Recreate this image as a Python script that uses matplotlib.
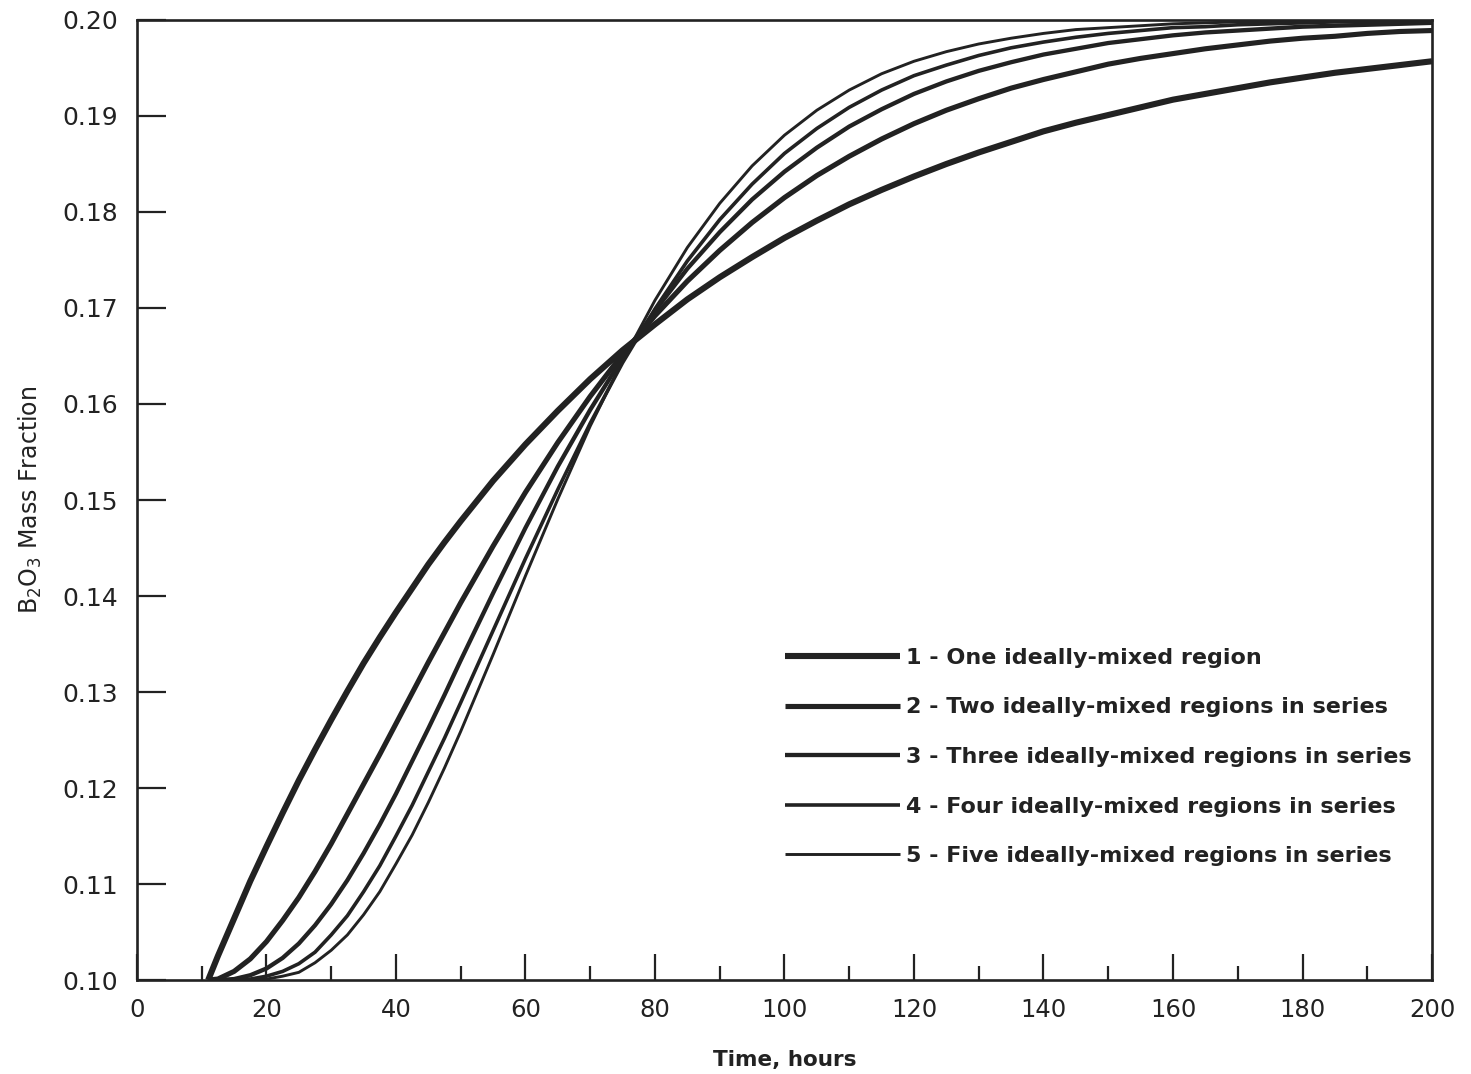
import numpy as np
import matplotlib
matplotlib.use("Agg")
import matplotlib.pyplot as plt

# Time, hours
time_h = [11, 12.5, 15, 17.5, 20, 22.5, 25, 27.5, 30, 32.5, 35, 37.5, 40, 42.5, 45, 47.5, 50,
          55, 60, 65, 70, 75, 80, 85, 90, 95, 100, 105, 110, 115, 120, 125, 130, 135, 140,
          145, 150, 155, 160, 165, 170, 175, 180, 185, 190, 195, 200]

# B2O3 mass fraction
one_region = [0.1000, 0.1025, 0.1064, 0.1103, 0.1139, 0.1174, 0.1208, 0.1240, 0.1271, 0.1301,
              0.1330, 0.1357, 0.1383, 0.1408, 0.1433, 0.1456, 0.1478, 0.1520, 0.1558, 0.1593,
              0.1626, 0.1656, 0.1683, 0.1709, 0.1732, 0.1753, 0.1773, 0.1791, 0.1808, 0.1823,
              0.1837, 0.1850, 0.1862, 0.1873, 0.1884, 0.1893, 0.1901, 0.1909, 0.1917, 0.1923,
              0.1929, 0.1935, 0.1940, 0.1945, 0.1949, 0.1953, 0.1957]
two_regions = [0.1000, 0.1001, 0.1009, 0.1022, 0.1040, 0.1062, 0.1086, 0.1113, 0.1142, 0.1173,
               0.1204, 0.1235, 0.1267, 0.1299, 0.1331, 0.1362, 0.1393, 0.1452, 0.1508, 0.1560,
               0.1608, 0.1652, 0.1692, 0.1728, 0.1760, 0.1789, 0.1815, 0.1838, 0.1858, 0.1876,
               0.1892, 0.1906, 0.1918, 0.1929, 0.1938, 0.1946, 0.1954, 0.1960, 0.1965, 0.1970,
               0.1974, 0.1978, 0.1981, 0.1983, 0.1986, 0.1988, 0.1989]
three_regions = [0.1000, 0.1000, 0.1001, 0.1005, 0.1012, 0.1023, 0.1038, 0.1057, 0.1079, 0.1104,
                 0.1132, 0.1162, 0.1194, 0.1228, 0.1262, 0.1297, 0.1333, 0.1403, 0.1471, 0.1535,
                 0.1594, 0.1648, 0.1697, 0.1741, 0.1779, 0.1813, 0.1842, 0.1867, 0.1889, 0.1907,
                 0.1923, 0.1936, 0.1947, 0.1956, 0.1964, 0.1970, 0.1976, 0.1980, 0.1984, 0.1987,
                 0.1989, 0.1991, 0.1993, 0.1994, 0.1995, 0.1996, 0.1997]
four_regions = [0.1000, 0.1000, 0.1000, 0.1001, 0.1004, 0.1009, 0.1017, 0.1029, 0.1047, 0.1067,
                0.1092, 0.1119, 0.1150, 0.1182, 0.1217, 0.1252, 0.1289, 0.1364, 0.1439, 0.1511,
                0.1580, 0.1643, 0.1699, 0.1749, 0.1792, 0.1829, 0.1861, 0.1887, 0.1909, 0.1927,
                0.1942, 0.1953, 0.1963, 0.1971, 0.1977, 0.1982, 0.1986, 0.1989, 0.1992, 0.1993,
                0.1995, 0.1996, 0.1997, 0.1998, 0.1998, 0.1999, 0.1999]
five_regions = [0.1000, 0.1000, 0.1000, 0.1000, 0.1001, 0.1004, 0.1008, 0.1018, 0.1031, 0.1047,
                0.1068, 0.1092, 0.1121, 0.1151, 0.1185, 0.1221, 0.1259, 0.1339, 0.1421, 0.1501,
                0.1577, 0.1645, 0.1708, 0.1763, 0.1809, 0.1848, 0.1880, 0.1906, 0.1927, 0.1944,
                0.1957, 0.1967, 0.1975, 0.1981, 0.1986, 0.1990, 0.1992, 0.1994, 0.1996, 0.1997,
                0.1998, 0.1998, 0.1999, 0.1999, 0.1999, 0.2000, 0.2000]

labels = ["1 - One ideally-mixed region",
          "2 - Two ideally-mixed regions in series",
          "3 - Three ideally-mixed regions in series",
          "4 - Four ideally-mixed regions in series",
          "5 - Five ideally-mixed regions in series"]

x_ticks = [0, 20, 40, 60, 80, 100, 120, 140, 160, 180, 200]
y_ticks = [0.10, 0.11, 0.12, 0.13, 0.14, 0.15, 0.16, 0.17, 0.18, 0.19, 0.20]

plt.rcParams['font.family'] = ['DejaVu Sans']
ink = '#222222'
fig = plt.figure(figsize=(14.71, 10.74), dpi=100)
ax = fig.add_axes([0.0931, 0.0875, 0.8804, 0.8939])
all_series = [one_region, two_regions, three_regions, four_regions, five_regions]
lws = [4.4, 3.7, 3.1, 2.6, 2.1]
for ys, lw, lab in zip(all_series, lws, labels):
    ax.plot(time_h, ys, color=ink, lw=lw, label=lab, solid_capstyle='butt')
ax.set_xlim(0, 200)
ax.set_ylim(0.1, 0.2)
ax.set_xticks(x_ticks)
ax.set_xticks(np.arange(10, 200, 20), minor=True)
ax.set_yticks(y_ticks)
ax.set_yticklabels([f"{v:.2f}" for v in y_ticks])
ax.tick_params(axis='x', which='major', direction='in', length=19, width=1.6, pad=13,
               labelsize=17.5, colors=ink)
ax.tick_params(axis='x', which='minor', direction='in', length=10, width=1.6, colors=ink)
ax.tick_params(axis='y', which='major', direction='in', length=21, width=1.6, pad=13.5,
               labelsize=18, colors=ink)
for sp in ax.spines.values():
    sp.set_linewidth(1.9)
    sp.set_color(ink)
ax.set_xlabel("Time, hours", fontsize=15.5, fontweight='bold', labelpad=20, color=ink)
ax.set_ylabel("B$_2$O$_3$ Mass Fraction", fontsize=17, labelpad=13, color=ink)
leg = ax.legend(loc='upper left', bbox_to_anchor=(0.5337, 0.3968), bbox_transform=fig.transFigure,
                frameon=False, handlelength=5.15, handletextpad=0.3, labelspacing=1.33,
                borderpad=0, borderaxespad=0,
                prop={'size': 16, 'weight': 'bold'})
for txt in leg.get_texts():
    txt.set_color(ink)
fig.savefig("out.png")
